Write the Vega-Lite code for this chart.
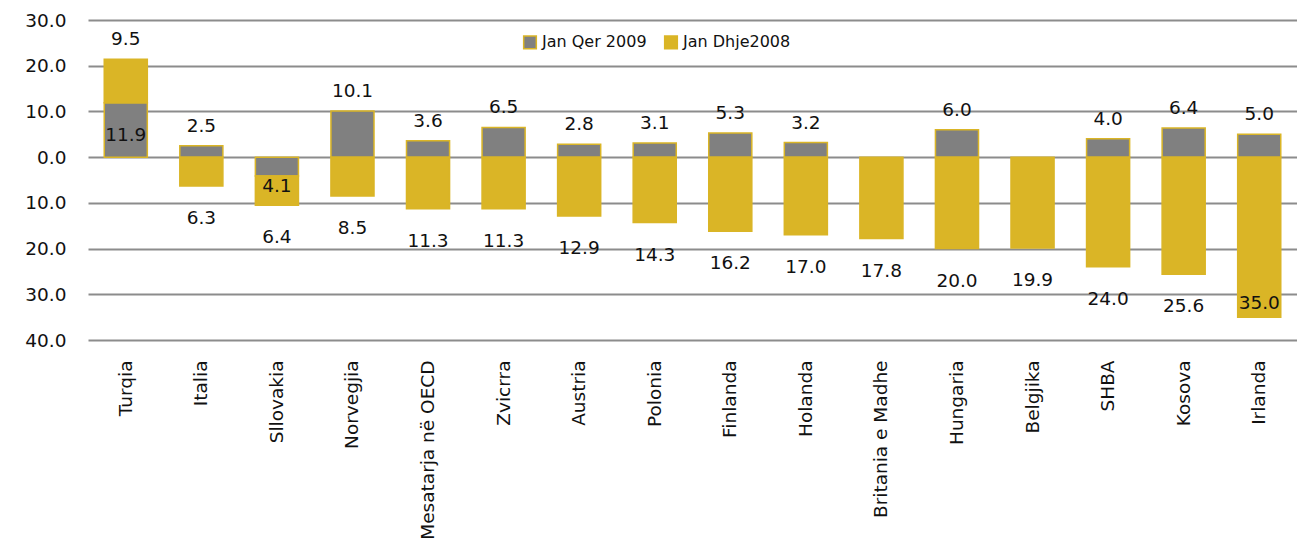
{
  "$schema": "https://vega.github.io/schema/vega-lite/v6.json",
  "autosize": "none",
  "width": 1209,
  "height": 320,
  "padding": {"left": 88, "top": 20, "right": 0, "bottom": 203},
  "background": "white",
  "config": {
    "view": {"stroke": null},
    "font": "DejaVu Sans",
    "axis": {"labelFont": "DejaVu Sans", "labelColor": "#111111"},
    "legend": {"labelFont": "DejaVu Sans"}
  },
  "data": {
    "values": [
      {"country": "Turqia", "series": "Jan Qer 2009", "value": 11.9},
      {"country": "Turqia", "series": "Jan Dhje2008", "value": 9.5},
      {"country": "Italia", "series": "Jan Qer 2009", "value": 2.5},
      {"country": "Italia", "series": "Jan Dhje2008", "value": -6.3},
      {"country": "Sllovakia", "series": "Jan Qer 2009", "value": -4.1},
      {"country": "Sllovakia", "series": "Jan Dhje2008", "value": -6.4},
      {"country": "Norvegjia", "series": "Jan Qer 2009", "value": 10.1},
      {"country": "Norvegjia", "series": "Jan Dhje2008", "value": -8.5},
      {"country": "Mesatarja në OECD", "series": "Jan Qer 2009", "value": 3.6},
      {"country": "Mesatarja në OECD", "series": "Jan Dhje2008", "value": -11.3},
      {"country": "Zvicrra", "series": "Jan Qer 2009", "value": 6.5},
      {"country": "Zvicrra", "series": "Jan Dhje2008", "value": -11.3},
      {"country": "Austria", "series": "Jan Qer 2009", "value": 2.8},
      {"country": "Austria", "series": "Jan Dhje2008", "value": -12.9},
      {"country": "Polonia", "series": "Jan Qer 2009", "value": 3.1},
      {"country": "Polonia", "series": "Jan Dhje2008", "value": -14.3},
      {"country": "Finlanda", "series": "Jan Qer 2009", "value": 5.3},
      {"country": "Finlanda", "series": "Jan Dhje2008", "value": -16.2},
      {"country": "Holanda", "series": "Jan Qer 2009", "value": 3.2},
      {"country": "Holanda", "series": "Jan Dhje2008", "value": -17.0},
      {"country": "Britania e Madhe", "series": "Jan Dhje2008", "value": -17.8},
      {"country": "Hungaria", "series": "Jan Qer 2009", "value": 6.0},
      {"country": "Hungaria", "series": "Jan Dhje2008", "value": -20.0},
      {"country": "Belgjika", "series": "Jan Dhje2008", "value": -19.9},
      {"country": "SHBA", "series": "Jan Qer 2009", "value": 4.0},
      {"country": "SHBA", "series": "Jan Dhje2008", "value": -24.0},
      {"country": "Kosova", "series": "Jan Qer 2009", "value": 6.4},
      {"country": "Kosova", "series": "Jan Dhje2008", "value": -25.6},
      {"country": "Irlanda", "series": "Jan Qer 2009", "value": 5.0},
      {"country": "Irlanda", "series": "Jan Dhje2008", "value": -35.0}
    ]
  },
  "transform": [
    {"stack": "value", "groupby": ["country"], "sort": [{"field": "series", "order": "descending"}], "as": ["v0", "v1"], "offset": "zero"},
    {"joinaggregate": [{"op": "max", "field": "v1", "as": "top"}], "groupby": ["country"]},
    {"calculate": "format(abs(datum.value), '.1f')", "as": "label"}
  ],
  "encoding": {
    "x": {
      "field": "country", "type": "nominal", "sort": null,
      "scale": {"paddingInner": 0.43, "paddingOuter": 0.215},
      "axis": {"title": null, "labelAngle": -90, "labelFontSize": 18.5, "labelPadding": 20, "domain": false, "ticks": false, "labelBaseline": "middle"}
    }
  },
  "layer": [
    {
      "mark": {"type": "bar", "stroke": "#DAB526", "strokeWidth": 1.5},
      "encoding": {
        "y": {
          "field": "v1", "type": "quantitative",
          "scale": {"domain": [-40, 30], "nice": false},
          "axis": {
            "title": null, "values": [-40, -30, -20, -10, 0, 10, 20, 30],
            "labelExpr": "format(abs(datum.value), '.1f')",
            "labelFontSize": 18.5, "labelPadding": 22, "domain": false, "ticks": false,
            "grid": true, "gridColor": "#8c8c8c", "gridWidth": 2
          }
        },
        "y2": {"field": "v0"},
        "color": {
          "field": "series", "type": "nominal",
          "scale": {"domain": ["Jan Qer 2009", "Jan Dhje2008"], "range": ["#808080", "#DAB526"]},
          "legend": {
            "title": null, "orient": "none", "direction": "horizontal",
            "legendX": 434, "legendY": 14, "symbolType": "square", "symbolSize": 160,
            "symbolStrokeColor": "#DAB526", "symbolStrokeWidth": 1.5, "symbolOpacity": 1,
            "labelFontSize": 16, "labelColor": "#111111", "columnPadding": 14, "labelOffset": 4
          }
        }
      }
    },
    {
      "transform": [{"filter": "datum.value > 0 && datum.v1 >= datum.top"}],
      "mark": {"type": "text", "fontSize": 18.5, "color": "#111111", "baseline": "middle", "dy": -20},
      "encoding": {
        "y": {"field": "v1", "type": "quantitative"},
        "text": {"field": "label", "type": "nominal"}
      }
    },
    {
      "transform": [{"filter": "datum.value > 0 && datum.v1 < datum.top"}],
      "mark": {"type": "text", "fontSize": 18.5, "color": "#111111", "baseline": "middle", "dy": 32},
      "encoding": {
        "y": {"field": "v1", "type": "quantitative"},
        "text": {"field": "label", "type": "nominal"}
      }
    },
    {
      "transform": [{"filter": "datum.value < 0 && datum.series == 'Jan Qer 2009'"}],
      "mark": {"type": "text", "fontSize": 18.5, "color": "#111111", "baseline": "middle", "dy": 10},
      "encoding": {
        "y": {"field": "v1", "type": "quantitative"},
        "text": {"field": "label", "type": "nominal"}
      }
    },
    {
      "transform": [{"filter": "datum.value < 0 && datum.value > -30 && datum.series == 'Jan Dhje2008'"}],
      "mark": {"type": "text", "fontSize": 18.5, "color": "#111111", "baseline": "middle", "dy": 32},
      "encoding": {
        "y": {"field": "v1", "type": "quantitative"},
        "text": {"field": "label", "type": "nominal"}
      }
    },
    {
      "transform": [{"filter": "datum.value <= -30 && datum.series == 'Jan Dhje2008'"}],
      "mark": {"type": "text", "fontSize": 18.5, "color": "#111111", "baseline": "middle", "dy": -14},
      "encoding": {
        "y": {"field": "v1", "type": "quantitative"},
        "text": {"field": "label", "type": "nominal"}
      }
    }
  ]
}
